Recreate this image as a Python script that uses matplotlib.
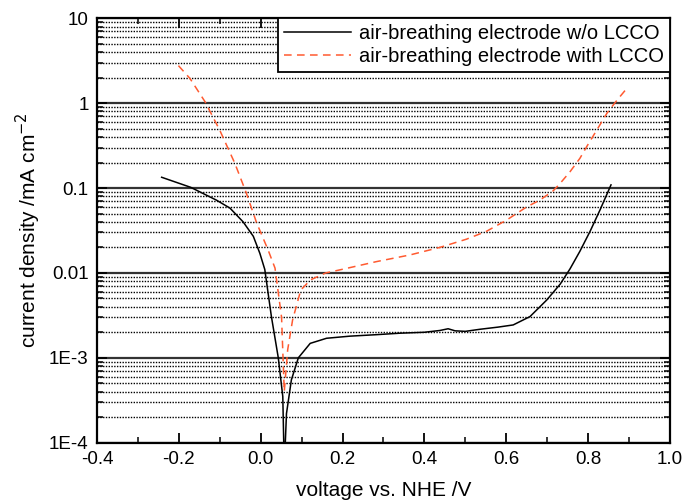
import matplotlib
matplotlib.use('Agg')
import matplotlib.pyplot as plt
import numpy as np
from matplotlib.ticker import FixedLocator, FixedFormatter, LogLocator, NullFormatter

plt.rcParams['font.family'] = ['Liberation Sans', 'DejaVu Sans']

# air-breathing electrode w/o LCCO
v_wo = [-0.242, -0.171, -0.108, -0.075, -0.043, -0.018, -0.002, 0.010, 0.026, 0.043,
        0.054, 0.0576, 0.063, 0.075, 0.092, 0.121, 0.161, 0.218, 0.280, 0.340,
        0.400, 0.438, 0.458, 0.475, 0.500, 0.536, 0.580, 0.617, 0.658, 0.699,
        0.732, 0.756, 0.780, 0.805, 0.829, 0.856]
j_wo = [0.134, 0.102, 0.072, 0.058, 0.040, 0.027, 0.017, 0.011, 3.1e-3, 1.0e-3,
        3.5e-4, 5e-5, 2.2e-4, 5.5e-4, 1.0e-3, 1.48e-3, 1.7e-3, 1.8e-3, 1.87e-3, 1.95e-3,
        2.0e-3, 2.1e-3, 2.2e-3, 2.08e-3, 2.05e-3, 2.17e-3, 2.3e-3, 2.44e-3, 3.06e-3, 4.8e-3,
        7.4e-3, 0.0112, 0.018, 0.031, 0.055, 0.109]

# air-breathing electrode with LCCO
v_w = [-0.201, -0.173, -0.136, -0.100, -0.063, -0.035, -0.010, 0.018, 0.035, 0.051,
       0.0576, 0.066, 0.078, 0.098, 0.122, 0.159, 0.202, 0.283, 0.365, 0.438,
       0.503, 0.552, 0.601, 0.650, 0.682, 0.715, 0.732, 0.756, 0.780, 0.797,
       0.821, 0.846, 0.871, 0.895]
j_w = [2.77, 1.96, 1.04, 0.48, 0.195, 0.087, 0.039, 0.0187, 0.0114, 3.0e-3,
       4.0e-4, 1.25e-3, 2.8e-3, 6.3e-3, 8.3e-3, 0.0100, 0.0111, 0.0136, 0.0163, 0.020,
       0.025, 0.031, 0.042, 0.060, 0.072, 0.093, 0.114, 0.156, 0.224, 0.31,
       0.48, 0.76, 1.09, 1.50]

x_ticks = [-0.4, -0.2, 0.0, 0.2, 0.4, 0.6, 0.8, 1.0]
y_ticks = [1e-4, 1e-3, 1e-2, 1e-1, 1, 10]
y_labels = ['1E-4', '1E-3', '0.01', '0.1', '1', '10']

fig = plt.figure(figsize=(6.85, 5), dpi=100)
ax = fig.add_axes([0.1416, 0.1146, 0.8364, 0.8488])

ax.set_yscale('log')
ax.set_xlim(-0.4, 1.0)
ax.set_ylim(1e-4, 10)

# grid: solid at decades, dotted in between
ax.yaxis.set_minor_locator(LogLocator(base=10, subs=np.arange(2, 10)))
ax.yaxis.set_minor_formatter(NullFormatter())
ax.grid(which='major', axis='y', color='#333333', linestyle='-', linewidth=1.6)
ax.grid(which='minor', axis='y', color='black', linestyle=(0, (1, 1)), linewidth=1.0)
ax.set_axisbelow(True)

ax.plot(v_wo, j_wo, color='black', linewidth=1.1, label='air-breathing electrode w/o LCCO')
ax.plot(v_w, j_w, color='#ff5a30', linewidth=1.1, linestyle=(0, (5, 3.5)),
        label='air-breathing electrode with LCCO')

ax.xaxis.set_major_locator(FixedLocator(x_ticks))
ax.set_xticklabels(['%.1f' % t for t in x_ticks])
ax.xaxis.set_minor_locator(FixedLocator(np.arange(-0.3, 1.0, 0.2)))
ax.yaxis.set_major_locator(FixedLocator(y_ticks))
ax.yaxis.set_major_formatter(FixedFormatter(y_labels))

ax.tick_params(which='both', direction='in', top=True, right=True, labelsize=13.5, colors='black')
ax.tick_params(which='major', length=7, width=1.3, pad=6)
ax.tick_params(which='minor', length=4, width=1.1)
for s in ax.spines.values():
    s.set_linewidth(1.6)

ax.set_xlabel('voltage vs. NHE /V', fontsize=15, labelpad=9)
ax.set_ylabel('current density /mA cm$^{-2}$', fontsize=15, labelpad=4)

leg = ax.legend(loc='upper right', fontsize=14.5, frameon=True, fancybox=False,
                borderaxespad=0, handlelength=3.3, handletextpad=0.4,
                labelspacing=0.2, borderpad=0.3, framealpha=1)
leg.get_frame().set_edgecolor('black')
leg.get_frame().set_linewidth(1.3)

plt.savefig('out.png', dpi=100)
